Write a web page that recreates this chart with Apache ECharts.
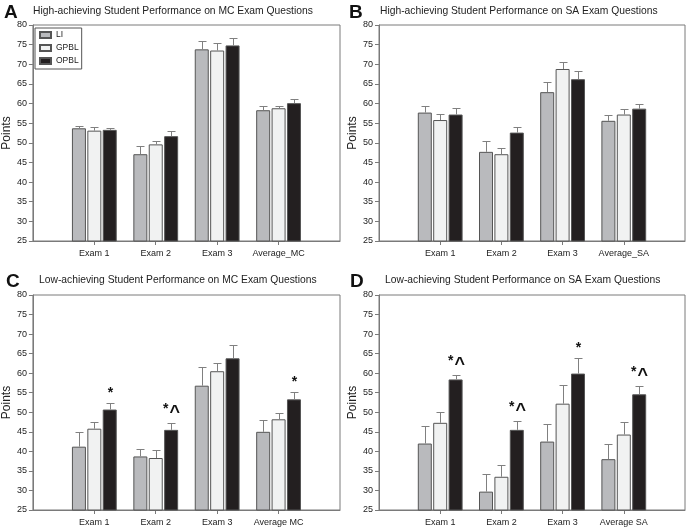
<!DOCTYPE html>
<html>
<head>
<meta charset="utf-8">
<script src="https://cdn.jsdelivr.net/npm/echarts@6/dist/echarts.min.js"></script>
<style>
html,body{margin:0;padding:0;background:#fff;}
#c{width:689px;height:527px;}
</style>
</head>
<body>
<div id="c"></div>
<script>
// ---- data ----
const seriesNames = ['LI', 'GPBL', 'OPBL'];
const categoriesA = ['Exam 1', 'Exam 2', 'Exam 3', 'Average_MC'];
const categoriesB = ['Exam 1', 'Exam 2', 'Exam 3', 'Average_SA'];
const categoriesC = ['Exam 1', 'Exam 2', 'Exam 3', 'Average MC'];
const categoriesD = ['Exam 1', 'Exam 2', 'Exam 3', 'Average SA'];

const yTicks = [25, 30, 35, 40, 45, 50, 55, 60, 65, 70, 75, 80];

const titleA = 'High-achieving Student Performance on MC Exam Questions';
const titleB = 'High-achieving Student Performance on SA Exam Questions';
const titleC = 'Low-achieving Student Performance on MC Exam Questions';
const titleD = 'Low-achieving Student Performance on SA Exam Questions';

// Panel A
const aLI = [53.7, 47.1, 73.8, 58.3];
const aLIerr = [0.7, 2.2, 2.0, 1.2];
const aGPBL = [53.1, 49.6, 73.5, 58.8];
const aGPBLerr = [0.9, 0.9, 2.0, 0.7];
const aOPBL = [53.3, 51.7, 74.8, 60.1];
const aOPBLerr = [0.6, 1.4, 2.0, 1.0];
const aMarks = ['', '', '', ''];

// Panel B
const bLI = [57.7, 47.7, 62.9, 55.6];
const bLIerr = [1.7, 2.8, 2.5, 1.6];
const bGPBL = [55.8, 47.1, 68.8, 57.2];
const bGPBLerr = [1.5, 1.7, 1.9, 1.3];
const bOPBL = [57.2, 52.6, 66.2, 58.7];
const bOPBLerr = [1.6, 1.4, 2.0, 1.1];
const bMarks = ['', '', '', ''];

// Panel C
const cLI = [41.2, 38.7, 56.8, 45.0];
const cLIerr = [3.8, 2.0, 4.9, 3.0];
const cGPBL = [45.8, 38.3, 60.5, 48.2];
const cGPBLerr = [1.7, 2.1, 2.1, 1.5];
const cOPBL = [50.7, 45.5, 63.8, 53.3];
const cOPBLerr = [1.6, 1.8, 3.4, 1.9];
const cMarks = ['*', '*^', '', '*'];

// Panel D
const dLI = [42.0, 29.7, 42.5, 38.0];
const dLIerr = [4.6, 4.5, 4.5, 3.9];
const dGPBL = [47.3, 33.5, 52.2, 44.3];
const dGPBLerr = [2.7, 3.0, 4.8, 3.1];
const dOPBL = [58.4, 45.5, 59.9, 54.6];
const dOPBLerr = [1.2, 2.3, 4.1, 2.1];
const dMarks = ['*^', '*^', '*', '*^'];

// ---- styling ----
const FONT = 'Liberation Sans, Arial, sans-serif';
const colors = ['#b9babd', '#f1f2f2', '#231f20'];
const BAR_W = 14;
const BAR_GAP = 0.1;
const OFFSET = BAR_W * (1 + BAR_GAP);

const panels = [
  {cats: categoriesA, vals: [aLI, aGPBL, aOPBL], errs: [aLIerr, aGPBLerr, aOPBLerr], marks: aMarks,
   grid: {left: 30, top: 25, width: 310, height: 216}, title: titleA, letter: 'A',
   letterPos: [4, 3], titlePos: [33, 6]},
  {cats: categoriesB, vals: [bLI, bGPBL, bOPBL], errs: [bLIerr, bGPBLerr, bOPBLerr], marks: bMarks,
   grid: {left: 379, top: 25, width: 306, height: 216}, title: titleB, letter: 'B',
   letterPos: [349, 3], titlePos: [380, 6]},
  {cats: categoriesC, vals: [cLI, cGPBL, cOPBL], errs: [cLIerr, cGPBLerr, cOPBLerr], marks: cMarks,
   grid: {left: 30, top: 295, width: 310, height: 215}, title: titleC, letter: 'C',
   letterPos: [6, 272], titlePos: [39, 275]},
  {cats: categoriesD, vals: [dLI, dGPBL, dOPBL], errs: [dLIerr, dGPBLerr, dOPBLerr], marks: dMarks,
   grid: {left: 379, top: 295, width: 306, height: 215}, title: titleD, letter: 'D',
   letterPos: [350, 272], titlePos: [385, 275]}
];

const grids = [], xAxes = [], yAxes = [], series = [], titles = [];

function markText(m) {
  return m.split('').map(ch => ch === '^' ? '{c|^}' : '{s|' + ch + '}').join('');
}

panels.forEach((p, pi) => {
  grids.push(Object.assign({show: true, borderColor: '#7a7a7a', borderWidth: 1, backgroundColor: '#fff'}, p.grid));
  const axisCats = ['pad0'].concat(p.cats).concat(['pad1']);
  xAxes.push({
    type: 'category', gridIndex: pi, data: axisCats, boundaryGap: false,
    axisLine: {lineStyle: {color: '#7a7a7a', width: 1}},
    axisTick: {show: true, length: 4, interval: (i) => i > 0 && i < axisCats.length - 1, lineStyle: {color: '#7a7a7a'}},
    axisLabel: {interval: 0, fontSize: 9, color: '#222', fontFamily: FONT, margin: 8,
      formatter: (v) => (v.indexOf('pad') === 0 ? '' : v)},
    splitLine: {show: false}
  });
  yAxes.push({
    type: 'value', gridIndex: pi, min: yTicks[0], max: yTicks[yTicks.length - 1], interval: 5,
    name: 'Points', nameLocation: 'middle', nameGap: 17,
    nameTextStyle: {fontSize: 12, color: '#222', fontFamily: FONT},
    axisLine: {show: true, lineStyle: {color: '#7a7a7a', width: 1}},
    axisTick: {show: true, length: 4, lineStyle: {color: '#7a7a7a'}},
    axisLabel: {fontSize: 9, color: '#222', fontFamily: FONT, margin: 6},
    splitLine: {show: false}
  });
  p.vals.forEach((vals, k) => {
    series.push({
      name: seriesNames[k], type: 'bar', xAxisIndex: pi, yAxisIndex: pi,
      barWidth: BAR_W, barGap: (BAR_GAP * 100) + '%',
      data: vals.map((v, i) => [i + 1, v]),
      itemStyle: {color: colors[k], borderColor: '#555', borderWidth: 1},
      emphasis: {disabled: true}, animation: false, z: 2
    });
  });
  const errData = [];
  p.vals.forEach((vals, k) => {
    vals.forEach((v, i) => {
      errData.push([i + 1, v, p.errs[k][i], k, k === 2 ? p.marks[i] : '']);
    });
  });
  series.push({
    type: 'custom', xAxisIndex: pi, yAxisIndex: pi, z: 5, animation: false,
    data: errData,
    encode: {x: 0, y: 1},
    renderItem: (params, api) => {
      const item = errData[params.dataIndex];
      const base = api.coord([item[0], item[1]]);
      const capPt = api.coord([item[0], item[1] + item[2]]);
      const cx = Math.round(base[0] + (item[3] - 1) * OFFSET) + 0.5;
      const capY = Math.round(capPt[1]) + 0.5;
      const children = [
        {type: 'line', shape: {x1: cx, y1: base[1], x2: cx, y2: capY}, style: {stroke: '#808080', lineWidth: 1}},
        {type: 'line', shape: {x1: cx - 4, y1: capY, x2: cx + 4, y2: capY}, style: {stroke: '#808080', lineWidth: 1}}
      ];
      if (item[4]) {
        children.push({type: 'text', x: cx, y: capY - 3,
          style: {text: markText(item[4]), fill: '#111', textAlign: 'center', textVerticalAlign: 'bottom',
            rich: {
              s: {font: 'bold 14px ' + FONT, fill: '#111', height: 14},
              c: {font: 'bold 18px ' + FONT, fill: '#111', height: 14, padding: [8, 0, 0, 1]}
            }}});
      }
      return {type: 'group', children: children};
    }
  });
  titles.push({text: p.letter, left: p.letterPos[0], top: p.letterPos[1], padding: 0,
    textStyle: {fontSize: 19, fontWeight: 'bold', color: '#111', fontFamily: FONT}});
  titles.push({text: p.title, left: p.titlePos[0], top: p.titlePos[1], padding: 0,
    textStyle: {fontSize: 10.3, fontWeight: 'normal', color: '#222', fontFamily: FONT}});
});

const chart = echarts.init(document.getElementById('c'), null, {renderer: 'canvas'});
chart.setOption({
  animation: false,
  backgroundColor: '#fff',
  title: titles,
  legend: {
    data: seriesNames, orient: 'vertical', left: 35, top: 28,
    borderColor: '#555', borderWidth: 1, padding: [2, 3, 3, 4],
    itemWidth: 11, itemHeight: 6, itemGap: 3,
    textStyle: {fontSize: 8.5, lineHeight: 10, color: '#222', fontFamily: FONT},
    icon: 'rect', selectedMode: false
  },
  grid: grids, xAxis: xAxes, yAxis: yAxes, series: series
});
</script>
</body>
</html>
